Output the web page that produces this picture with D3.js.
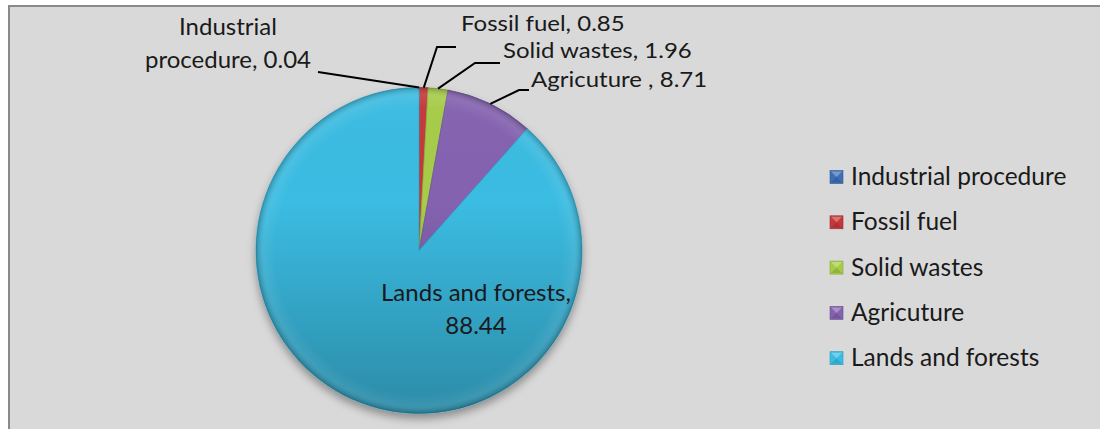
<!DOCTYPE html>
<html><head><meta charset="utf-8">
<script src="https://cdn.jsdelivr.net/npm/d3@7"></script>
<style>
html,body{margin:0;padding:0;background:#fff;}
text{font-family:"Lato","Open Sans",sans-serif;fill:#1a1a1a;}
</style></head>
<body><svg id="c" width="1100" height="429"></svg>
<script>
const categories = ["Industrial procedure","Fossil fuel","Solid wastes","Agricuture","Lands and forests"];
const values = [0.04, 0.85, 1.96, 8.71, 88.44];
const labelNames = ["Industrial procedure","Fossil fuel","Solid wastes","Agricuture ","Lands and forests"];
const colors = ["#3d6fb5","#c5383a","#a6cc48","#8462b0","#3bbce2"];

const svg = d3.select("#c");
const defs = svg.append("defs");

// frame
svg.append("rect").attr("x",9).attr("y",6).attr("width",1100).attr("height",440)
  .attr("fill","#d9d9d9").attr("stroke","#8a8a8a").attr("stroke-width",2);

const cx = 419, cy = 250.5, R = 163;

// drop shadow
const f = defs.append("filter").attr("id","sh").attr("x","-20%").attr("y","-20%").attr("width","140%").attr("height","150%");
f.append("feDropShadow").attr("dx",0).attr("dy",5).attr("stdDeviation",4).attr("flood-color","#000").attr("flood-opacity",0.35);

// shading gradient overlay (coordinates relative to pie centre)
const lg = defs.append("linearGradient").attr("id","shade")
  .attr("gradientUnits","userSpaceOnUse").attr("x1",0).attr("y1",-R).attr("x2",0).attr("y2",R);
lg.append("stop").attr("offset","0").attr("stop-color","#fff").attr("stop-opacity",0.03);
lg.append("stop").attr("offset","0.35").attr("stop-color","#000").attr("stop-opacity",0.0);
lg.append("stop").attr("offset","1").attr("stop-color","#000").attr("stop-opacity",0.26);

const rg = defs.append("radialGradient").attr("id","rim").attr("gradientUnits","userSpaceOnUse")
  .attr("cx",0).attr("cy",0).attr("r",R);
rg.append("stop").attr("offset","0.88").attr("stop-color","#fff").attr("stop-opacity",0);
rg.append("stop").attr("offset","0.95").attr("stop-color","#fff").attr("stop-opacity",0.07);
rg.append("stop").attr("offset","1").attr("stop-color","#000").attr("stop-opacity",0.22);

const pie = d3.pie().sort(null).value(d=>d)(values);
const arc = d3.arc().innerRadius(0).outerRadius(R);

const g = svg.append("g").attr("transform",`translate(${cx},${cy})`);
const pg = g.append("g").attr("filter","url(#sh)");
pg.selectAll("path.s").data(pie).join("path").attr("class","s")
  .attr("d",arc).attr("fill",(d,i)=>colors[i])
  .attr("stroke",(d,i)=>d3.color(colors[i]).darker(0.4)).attr("stroke-width",0.8);
g.selectAll("path.o").data(pie).join("path").attr("class","o")
  .attr("d",arc).attr("fill","url(#shade)");
g.selectAll("path.r").data(pie).join("path").attr("class","r")
  .attr("d",arc).attr("fill","url(#rim)");

// labels
const fs = 24;
const labelLayout = [
  {lines:["Industrial", "procedure, 0.04"], x:228, y:[35,68], anchor:"middle", line:[[318,72]], small:false},
  {lines:null, x:461, y:[31], anchor:"start", line:[[437,47],[456,47]], small:true},
  {lines:null, x:503, y:[57.5], anchor:"start", line:[[475,63],[500,63]], small:true},
  {lines:null, x:531, y:[87], anchor:"start", line:[[519,90],[529,90]], small:true}
];
labelLayout.forEach((L,i)=>{
  const d = pie[i];
  const mid = (d.startAngle+d.endAngle)/2;
  const p0 = [cx + R*Math.sin(mid), cy - R*Math.cos(mid)];
  const pts = [p0].concat(L.line);
  svg.append("path").attr("d",d3.line()(pts)).attr("fill","none").attr("stroke","#000").attr("stroke-width",2);
  const lines = L.lines || [`${labelNames[i]}, ${values[i]}`];
  lines.forEach((t,k)=>{
    const tx = svg.append("text").attr("x",L.x).attr("y",L.y[k]).attr("text-anchor",L.anchor)
      .attr("font-size",fs).text(t);
    if (L.small) {
      const w = tx.node().getComputedTextLength();
      tx.attr("font-size",22).attr("textLength",w).attr("lengthAdjust","spacingAndGlyphs");
    }
  });
});
svg.append("text").attr("x",476).attr("y",301).attr("text-anchor","middle").attr("font-size",fs).text(`${labelNames[4]},`);
svg.append("text").attr("x",476).attr("y",334).attr("text-anchor","middle").attr("font-size",fs).text(d3.format(".2f")(values[4]));

// legend
const lgd = svg.append("g");
categories.forEach((c,i)=>{
  const y = 177 + i*45.3;
  const gi = lgd.append("g").attr("transform",`translate(830,${y-6.5})`);
  gi.append("rect").attr("width",13).attr("height",13).attr("fill",colors[i])
    .attr("stroke",d3.color(colors[i]).darker(0.6)).attr("stroke-width",0.6);
  gi.append("path").attr("d","M1,1 L12,1 L6.5,6.5 Z").attr("fill","#fff").attr("opacity",0.3);
  gi.append("path").attr("d","M1,12 L12,12 L6.5,6.5 Z").attr("fill","#000").attr("opacity",0.12);
  lgd.append("text").attr("x",851).attr("y",y+8).attr("font-size",24.5).text(c);
});
</script></body></html>
